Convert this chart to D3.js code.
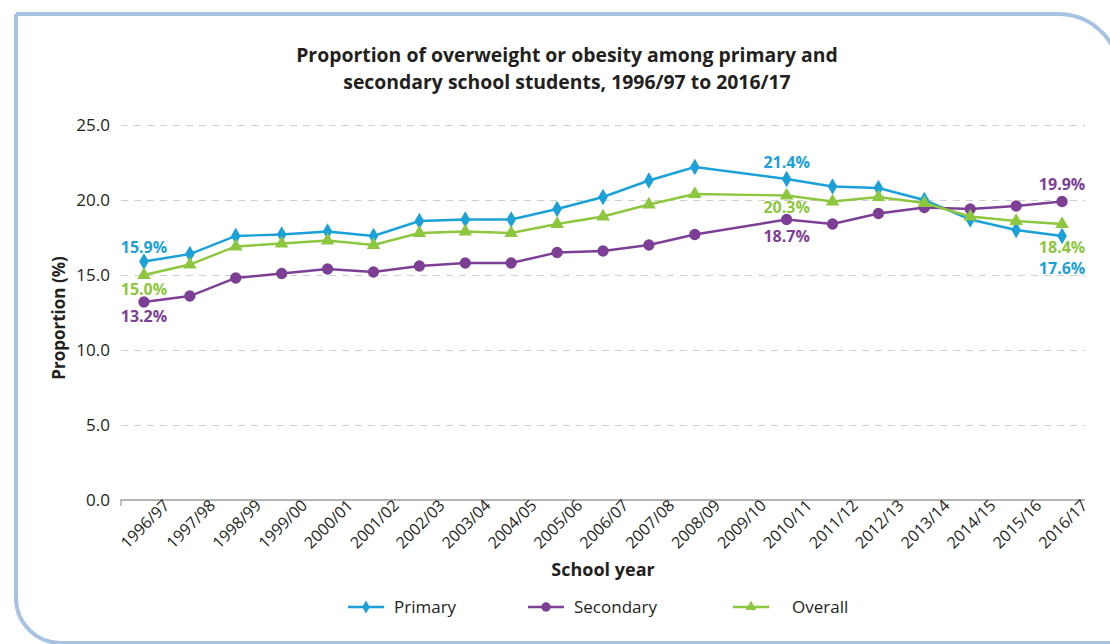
<!DOCTYPE html>
<html><head><meta charset="utf-8">
<script src="https://cdn.jsdelivr.net/npm/d3@7"></script>
<style>
html,body{margin:0;padding:0;background:#fff;}
svg{display:block;font-family:"Open Sans",sans-serif;}
</style></head>
<body>
<svg id="chart" width="1110" height="644"></svg>
<script>
const years = ["1996/97","1997/98","1998/99","1999/00","2000/01","2001/02","2002/03","2003/04","2004/05","2005/06","2006/07","2007/08","2008/09","2009/10","2010/11","2011/12","2012/13","2013/14","2014/15","2015/16","2016/17"];
const primary   = [15.9,16.4,17.6,17.7,17.9,17.6,18.6,18.7,18.7,19.4,20.2,21.3,22.2,null,21.4,20.9,20.8,20.0,18.7,18.0,17.6];
const secondary = [13.2,13.6,14.8,15.1,15.4,15.2,15.6,15.8,15.8,16.5,16.6,17.0,17.7,null,18.7,18.4,19.1,19.5,19.4,19.6,19.9];
const overall   = [15.0,15.7,16.9,17.1,17.3,17.0,17.8,17.9,17.8,18.4,18.9,19.7,20.4,null,20.3,19.9,20.2,19.8,18.9,18.6,18.4];
const yTicks = [0,5,10,15,20,25];
const seriesNames = ["Primary","Secondary","Overall"];
const colors = {Primary:"#1ba1d8", Secondary:"#7d3f96", Overall:"#8dc63f"};
const titleLines = ["Proportion of overweight or obesity among primary and","secondary school students, 1996/97 to 2016/17"];
// labelled points: [series, year index, vertical offset of label from its point]
const labelled = [
  ["Primary",0,-14],["Overall",0,14],["Secondary",0,14],
  ["Primary",14,-17],["Overall",14,12],["Secondary",14,17],
  ["Secondary",20,-17],["Overall",20,23],["Primary",20,32.5]
];

const seriesData = {Primary:primary, Secondary:secondary, Overall:overall};
const svg = d3.select("#chart");
const textColor = "#231f20";

// frame
svg.append("path")
  .attr("d","M16,14 H1058 A62,62 0 0 1 1120,76 V700 M16,14 V598 A45,45 0 0 0 61,643 H1120")
  .attr("fill","none").attr("stroke","#a8c3e1").attr("stroke-width",4);

const x = d3.scalePoint().domain(years).range([121,1085]).padding(0.5);
const y = d3.scaleLinear().domain([0,25]).range([500,125]);

// gridlines
const grid = svg.append("g").call(d3.axisLeft(y).tickValues(yTicks.filter(d=>d>0)).tickSize(-(1085-121)).tickFormat(""))
  .attr("transform","translate(121,0)");
grid.select(".domain").remove();
grid.selectAll("line").attr("stroke","#cfcfcf").attr("stroke-width",1.2).attr("stroke-dasharray","7,6");

// y tick labels
svg.append("g").selectAll("text").data(yTicks).join("text")
  .attr("x",110).attr("y",d=>y(d)).attr("dy","0.35em").attr("text-anchor","end")
  .attr("font-size",17).attr("fill",textColor).text(d=>d.toFixed(1));

// x axis
const xa = svg.append("g").attr("transform","translate(0,500)")
  .call(d3.axisBottom(x).tickSize(0).tickFormat(""));
xa.select(".domain").attr("stroke","#9d9d9d").attr("stroke-width",1.3).attr("d","M121,6V0H1085");
svg.append("g").selectAll("text").data(years).join("text")
  .attr("transform",d=>`translate(${x(d)+1},${524}) rotate(-45)`)
  .attr("text-anchor","middle").attr("dy","0.35em")
  .attr("font-size",16).attr("fill",textColor).text(d=>d);

// title
svg.append("g").selectAll("text").data(titleLines).join("text")
  .attr("x",567).attr("y",(d,i)=>62+i*27).attr("text-anchor","middle")
  .attr("font-size",19.4).attr("font-weight","bold").attr("fill",textColor).text(d=>d);

// axis titles
svg.append("text").attr("x",603).attr("y",576).attr("text-anchor","middle")
  .attr("font-size",18).attr("font-weight","bold").attr("fill",textColor).text("School year");
svg.append("text").attr("transform","translate(65,318) rotate(-90)").attr("text-anchor","middle")
  .attr("font-size",17).attr("font-weight","bold").attr("fill",textColor).text("Proportion (%)");

const symbols = {Primary:d3.symbol(d3.symbolDiamond,80), Secondary:d3.symbol(d3.symbolCircle,100), Overall:d3.symbol(d3.symbolTriangle,80)};

const line = d3.line().x(d=>x(d.year)).y(d=>y(d.v));
seriesNames.forEach(name=>{
  const pts = years.map((yr,i)=>({year:yr, v:seriesData[name][i]})).filter(d=>d.v!=null);
  const g = svg.append("g");
  g.append("path").datum(pts).attr("d",line).attr("fill","none")
    .attr("stroke",colors[name]).attr("stroke-width",2.4);
  g.selectAll("path.m").data(pts).join("path").attr("class","m")
    .attr("transform",d=>`translate(${x(d.year)},${y(d.v)})`)
    .attr("d",symbols[name]).attr("fill",colors[name]);
});

// data labels
svg.append("g").selectAll("text").data(labelled).join("text")
  .attr("x",d=>x(years[d[1]]))
  .attr("y",d=>y(seriesData[d[0]][d[1]])+d[2])
  .attr("text-anchor","middle").attr("dy","0.35em")
  .attr("font-size",16).attr("font-weight","bold").attr("fill",d=>colors[d[0]])
  .text(d=>seriesData[d[0]][d[1]].toFixed(1)+"%");

// legend
const legX = [348,528,733];
const leg = svg.append("g").selectAll("g").data(seriesNames).join("g")
  .attr("transform",(d,i)=>`translate(${legX[i]},607)`);
leg.append("line").attr("x1",0).attr("x2",36).attr("stroke",d=>colors[d]).attr("stroke-width",2.4);
leg.append("path").attr("transform","translate(18,0)")
  .attr("d",d=>d3.symbol(symbols[d].type(), d==="Secondary"?70:50)()).attr("fill",d=>colors[d]);
leg.append("text").attr("x",d=>d==="Overall"?59:46).attr("dy","0.35em")
  .attr("font-size",17).attr("fill",textColor).text(d=>d);
</script>
</body></html>
